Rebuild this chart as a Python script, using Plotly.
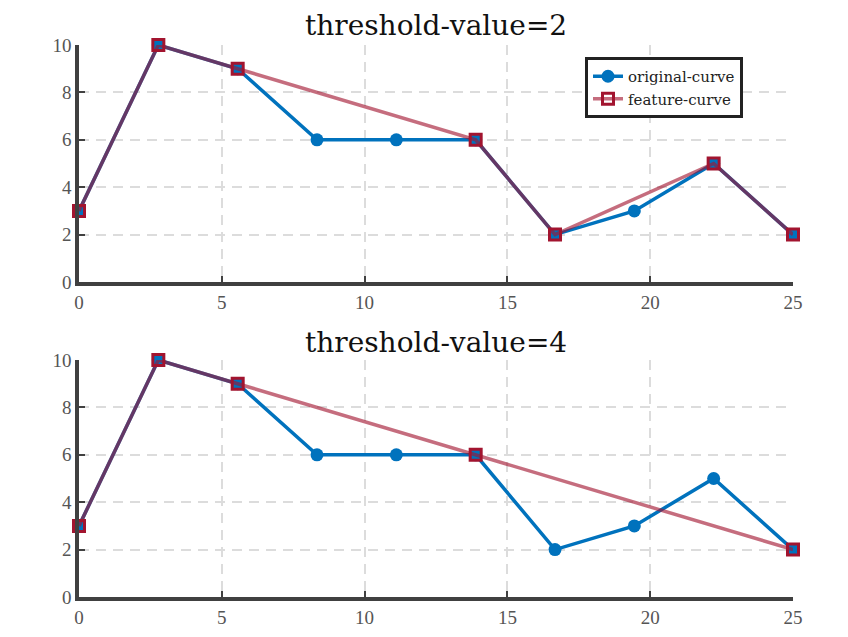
import plotly.graph_objects as go

x_vals = [0, 2.778, 5.556, 8.333, 11.111, 13.889, 16.667, 19.444, 22.222, 25]
orig_y = [3, 10, 9, 6, 6, 6, 2, 3, 5, 2]
feat1_x = [0, 2.778, 5.556, 13.889, 16.667, 22.222, 25]
feat1_y = [3, 10, 9, 6, 2, 5, 2]
feat2_x = [0, 2.778, 5.556, 13.889, 25]
feat2_y = [3, 10, 9, 6, 2]
titles = ["threshold-value=2", "threshold-value=4"]
x_ticks = [0, 5, 10, 15, 20, 25]
y_ticks = [0, 2, 4, 6, 8, 10]

BLUE = "#0072BD"
RED = "#A2142F"
RED_A = "rgba(162,20,47,0.62)"
FONT = "Liberation Serif"

W, H = 848, 637
OFF = 8  # page body margin
xdom = [(79 - OFF) / W, (793 - OFF) / W]
ydoms = [[(H - (282 - OFF)) / H, (H - (45 - OFF)) / H],
         [(H - (597 - OFF)) / H, (H - (360 - OFF)) / H]]

fig = go.Figure()
feats = [(feat1_x, feat1_y), (feat2_x, feat2_y)]
for i in range(2):
    xa = "x" if i == 0 else "x2"
    ya = "y" if i == 0 else "y2"
    fig.add_trace(go.Scatter(
        x=x_vals, y=orig_y, mode="lines+markers", name="original-curve",
        line=dict(color=BLUE, width=3.5),
        marker=dict(symbol="circle", size=13, color=BLUE),
        xaxis=xa, yaxis=ya, cliponaxis=False, showlegend=(i == 0), legendgroup="o"))
    fx, fy = feats[i]
    fig.add_trace(go.Scatter(
        x=fx, y=fy, mode="lines+markers", name="feature-curve",
        line=dict(color=RED_A, width=3.5),
        marker=dict(symbol="square-open", size=11, color=RED, line=dict(width=3, color=RED)),
        xaxis=xa, yaxis=ya, cliponaxis=False, showlegend=(i == 0), legendgroup="f"))

axis_common = dict(
    showline=True, linecolor="#404040", linewidth=3.5,
    ticks="inside", ticklen=6, tickwidth=2, tickcolor="#404040",
    showgrid=True, gridcolor="#dcdcdc", griddash="10px,7px", gridwidth=2,
    zeroline=False, tickfont=dict(family=FONT, size=19, color="#555555"),
    fixedrange=True, automargin=False,
)
layout = dict(
    width=W, height=H, margin=dict(l=0, r=0, t=0, b=0),
    plot_bgcolor="white", paper_bgcolor="white",
    showlegend=True,
    legend=dict(x=(585 - OFF) / W, y=(H - (57 - OFF)) / H, xanchor="left", yanchor="top",
                bordercolor="#222222", borderwidth=3, bgcolor="white",
                font=dict(family="DejaVu Serif", size=15, color="#222222"),
                tracegroupgap=0),
)
layout["xaxis"] = dict(domain=xdom, range=[0, 25], tickvals=x_ticks, anchor="y", **axis_common)
layout["yaxis"] = dict(domain=ydoms[0], range=[0, 10], tickvals=y_ticks, anchor="x", **axis_common)
layout["xaxis2"] = dict(domain=xdom, range=[0, 25], tickvals=x_ticks, anchor="y2", **axis_common)
layout["yaxis2"] = dict(domain=ydoms[1], range=[0, 10], tickvals=y_ticks, anchor="x2", **axis_common)
fig.update_layout(**layout)

title_y = [26, 342]
for i in range(2):
    fig.add_annotation(text=titles[i], x=(436 - OFF) / W, y=(H - (title_y[i] - OFF)) / H,
                       xref="paper", yref="paper",
                       showarrow=False, xanchor="center", yanchor="middle",
                       font=dict(family="DejaVu Serif", size=28, color="#111111"))

fig.write_html("out.html")
